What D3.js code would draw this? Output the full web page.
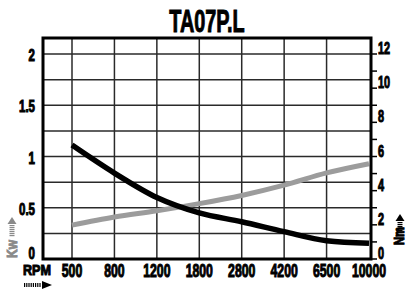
<!DOCTYPE html>
<html>
<head>
<meta charset="utf-8">
<script src="https://cdn.jsdelivr.net/npm/d3@7"></script>
<style>
body { margin: 0; background: #fff; }
text { font-family: "Liberation Sans", Arial, sans-serif; font-weight: bold; }
</style>
</head>
<body>
<div id="chart"></div>
<script>
var width = 406,
    height = 289;

// data
var rpm = ["500", "800", "1200", "1800", "2800", "4200", "6500", "10000"];
var powerKw = [0.33, 0.41, 0.47, 0.54, 0.62, 0.72, 0.84, 0.93];
var torqueNm = [6.67, 5.03, 3.6, 2.7, 2.18, 1.6, 1.07, 0.92];
var kwTicks = [0, 0.5, 1, 1.5, 2];
var nmTicks = [0, 2, 4, 6, 8, 10, 12];

var plotLeft = 43, plotRight = 371, plotTop = 38, plotBottom = 259;

var svg = d3.select("#chart").append("svg")
    .attr("width", width)
    .attr("height", height);

var x = d3.scalePoint().domain(rpm).range([72, 369]);
var yKw = d3.scaleLinear().domain([0, 2]).range([plotBottom, 54]);
var yNm = d3.scaleLinear().domain([0, 12]).range([plotBottom, 54]);

// condensed heavy text (scaled horizontally, thickened with a stroke)
function label(px, py, str, size, sx, anchor, fill) {
    var g = svg.append("g")
        .attr("transform", "translate(" + px + "," + py + ") scale(" + sx + ",1)");
    g.append("text")
        .attr("font-size", size)
        .attr("text-anchor", anchor)
        .attr("fill", fill || "#000")
        .attr("stroke", fill || "#000")
        .attr("stroke-width", 1)
        .text(str);
    return g;
}

// title
label((plotLeft + plotRight) / 2, 32, "TA07P.L", 31, 0.64, "middle");

// grid
var hGrid = d3.range(0.25, 2.01, 0.25);
svg.selectAll(".hgrid")
    .data(hGrid)
    .enter().append("line")
    .attr("x1", plotLeft).attr("x2", plotRight)
    .attr("y1", function (d) { return yKw(d); })
    .attr("y2", function (d) { return yKw(d); })
    .attr("stroke", "#2a2a2a")
    .attr("stroke-width", 1.5);
svg.selectAll(".vgrid")
    .data(rpm.slice(0, -1))
    .enter().append("line")
    .attr("x1", function (d) { return x(d); })
    .attr("x2", function (d) { return x(d); })
    .attr("y1", plotTop).attr("y2", plotBottom)
    .attr("stroke", "#2a2a2a")
    .attr("stroke-width", 1.5);

// curves
var kwLine = d3.line()
    .x(function (d, i) { return x(rpm[i]); })
    .y(function (d) { return yKw(d); })
    .curve(d3.curveMonotoneX);
var nmLine = d3.line()
    .x(function (d, i) { return x(rpm[i]); })
    .y(function (d) { return yNm(d); })
    .curve(d3.curveMonotoneX);

svg.append("path")
    .attr("d", kwLine(powerKw))
    .attr("fill", "none")
    .attr("stroke", "#9c9c9c")
    .attr("stroke-width", 5);
svg.append("path")
    .attr("d", nmLine(torqueNm))
    .attr("fill", "none")
    .attr("stroke", "#000")
    .attr("stroke-width", 5.5);

// frame
svg.append("rect")
    .attr("x", plotLeft).attr("y", plotTop)
    .attr("width", plotRight - plotLeft).attr("height", plotBottom - plotTop)
    .attr("fill", "none")
    .attr("stroke", "#000")
    .attr("stroke-width", 3);

// right axis ticks
svg.selectAll(".rtick")
    .data(d3.range(0, 13))
    .enter().append("line")
    .attr("x1", plotRight).attr("x2", plotRight + 6)
    .attr("y1", function (d) { return yNm(d); })
    .attr("y2", function (d) { return yNm(d); })
    .attr("stroke", "#000")
    .attr("stroke-width", 1.5);

// axis labels
kwTicks.forEach(function (d) {
    label(35, Math.min(yKw(d) + 7, 259), String(d), 16, 0.72, "end");
});
nmTicks.forEach(function (d) {
    label(378, yNm(d), String(d), 16, 0.68, "start");
});
rpm.forEach(function (d) {
    label(x(d), 277, d, 17.5, 0.7, "middle");
});
label(23, 275, "RPM", 15, 0.84, "start");

// Kw (grey) and Nm (black) side labels
svg.append("text")
    .attr("transform", "translate(17,249) rotate(-90) scale(0.8,1)")
    .attr("font-size", 15)
    .attr("text-anchor", "middle")
    .attr("fill", "#8a8a8a")
    .attr("stroke", "#8a8a8a")
    .attr("stroke-width", 1)
    .text("Kw");
svg.append("text")
    .attr("transform", "translate(404,236) rotate(-90) scale(0.8,1)")
    .attr("font-size", 14)
    .attr("text-anchor", "middle")
    .attr("fill", "#000")
    .attr("stroke", "#000")
    .attr("stroke-width", 1)
    .text("Nm");

// arrows with striped shafts
function upArrow(cx, tip, fill) {
    svg.append("path")
        .attr("d", "M" + (cx - 4.5) + "," + (tip + 7) + "L" + cx + "," + tip + "L" + (cx + 4.5) + "," + (tip + 7) + "Z")
        .attr("fill", fill);
    d3.range(0, 6).forEach(function (i) {
        svg.append("rect")
            .attr("x", cx - 2.5).attr("y", tip + 8 + i * 2)
            .attr("width", 5).attr("height", 1.2)
            .attr("fill", fill);
    });
}
upArrow(12, 217, "#8a8a8a");
upArrow(400, 214, "#000");

svg.append("path")
    .attr("d", "M42,281L52,285L42,289Z")
    .attr("fill", "#000");
d3.range(0, 8).forEach(function (i) {
    svg.append("rect")
        .attr("x", 24 + i * 2.2).attr("y", 283)
        .attr("width", 1.2).attr("height", 4)
        .attr("fill", "#000");
});
</script>
</body>
</html>
